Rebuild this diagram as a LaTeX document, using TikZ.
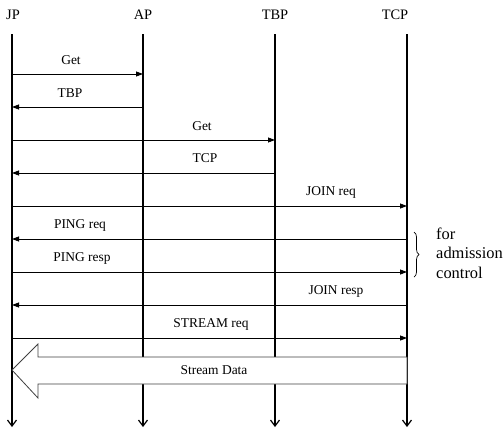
\documentclass[tikz,border=0pt]{standalone}
\usepackage{fontspec}
\setmainfont{Liberation Serif}
\usetikzlibrary{arrows.meta,calc,decorations.pathreplacing}
\begin{document}
\begin{tikzpicture}[x=1bp,y=-1bp,
  lifeline/.style={line width=1.3bp,-{Straight Barb[length=6bp,width=9bp,line width=1.2bp]}},
  msg/.style={line width=0.8bp,-{Triangle[length=7bp,width=5bp]}},
  msglabel/.style={font=\fontsize{13.5}{15}\selectfont,inner sep=0pt},
  head/.style={font=\fontsize{14.5}{16}\selectfont,inner sep=0pt},
  bigarrow/.style={draw=black!75,line width=0.8bp,fill=white},
  bracestyle/.style={draw,line width=0.7bp,decorate,decoration={brace,amplitude=5bp}},
  note/.style={font=\fontsize{16.5}{19.5}\selectfont,align=left,anchor=west,inner sep=0pt}]
\useasboundingbox (0,0) rectangle (504,430);
% headers
\node[head] (hJP) at (13,15) {JP};
\node[head] (hAP) at (143,15) {AP};
\node[head] (hTBP) at (275,15) {TBP};
\node[head] (hTCP) at (395,15) {TCP};
% lifeline coordinates
\foreach \n/\x in {JP/12,AP/143,TBP/275,TCP/407}{
  \coordinate (\n-top) at (\x,34);
  \coordinate (\n-bot) at (\x,427);
  \foreach \i/\y in {1/74,2/107,3/140,4/173,5/206,6/239,7/272,8/305,9/338,10/370}{
    \coordinate (\n-\i) at (\x,\y);
  }
}
% lifelines
\foreach \n in {JP,AP,TBP,TCP}{\draw[lifeline] (\n-top) -- (\n-bot);}
% messages
\draw[msg] (JP-1) -- (AP-1);
\node[msglabel] (l1) at (71,60) {Get};
\draw[msg] (AP-2) -- (JP-2);
\node[msglabel] (l2) at (70,93) {TBP};
\draw[msg] (JP-3) -- (TBP-3);
\node[msglabel] (l3) at (202,126) {Get};
\draw[msg] (TBP-4) -- (JP-4);
\node[msglabel] (l4) at (205,158) {TCP};
\draw[msg] (JP-5) -- (TCP-5);
\node[msglabel] (l5) at (331,192) {JOIN req};
\draw[msg] (TCP-6) -- (JP-6);
\node[msglabel] (l6) at (80,225) {PING req};
\draw[msg] (JP-7) -- (TCP-7);
\node[msglabel] (l7) at (82,258) {PING resp};
\draw[msg] (TCP-8) -- (JP-8);
\node[msglabel] (l8) at (336,291) {JOIN resp};
\draw[msg] (JP-9) -- (TCP-9);
\node[msglabel] (l9) at (211,324) {STREAM req};
% stream data big arrow
\draw[bigarrow] ($(TCP-10)+(0,-13)$) -- ($(JP-10)+(26,-13)$) -- ($(JP-10)+(26,-26)$)
  -- (JP-10) -- ($(JP-10)+(26,28)$) -- ($(JP-10)+(26,14)$) -- ($(TCP-10)+(0,14)$) -- cycle;
\node[msglabel] (l10) at (214,370) {Stream Data};
% brace and note
\coordinate (brtop) at (414,232);
\coordinate (brbot) at (414,277);
\draw[bracestyle] (brtop) -- (brbot);
\node[note] (note) at (436,253) {for\\admission\\control};
\end{tikzpicture}
\end{document}
